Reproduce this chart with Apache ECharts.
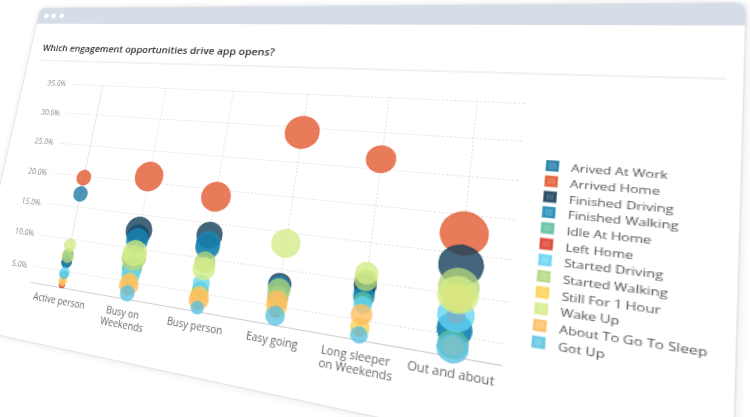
<!DOCTYPE html>
<html>
<head>
<meta charset="utf-8">
<script src="https://cdn.jsdelivr.net/npm/echarts@6/dist/echarts.min.js"></script>
<style>
  html, body { margin: 0; padding: 0; background: #ffffff; overflow: hidden; }
  #viewport { position: relative; width: 750px; height: 417px; overflow: hidden; background: #fff; }
  #stage { position: absolute; left: 0; top: 0; width: 750px; height: 417px; transform-origin: 0 0; }
  #card { position: absolute; left: 32px; top: 4px; width: 683px; height: 389px; background: #fff;
          border: 1px solid #e1e4e8; border-radius: 8px 8px 0 0; box-shadow: 0 0 7px rgba(0,0,0,0.10); box-sizing: border-box; }
  #bar { position: absolute; left: 0; top: 0; right: 0; height: 20px; background: #d5dde6; border-radius: 7px 7px 0 0; }
  .dot { position: absolute; top: 7px; width: 6px; height: 6px; border-radius: 50%; background: #fff; }
  #chart { position: absolute; left: 32px; top: 24px; width: 683px; height: 369px; }
</style>
</head>
<body>
<div id="viewport">
  <div id="stage">
    <div id="card">
      <div id="bar">
        <div class="dot" style="left:8px"></div>
        <div class="dot" style="left:18px"></div>
        <div class="dot" style="left:29px"></div>
      </div>
    </div>
    <div id="chart"></div>
  </div>
</div>
<script>
// ---------------- data ----------------
const categories = ['Active person', 'Busy on Weekends', 'Busy person', 'Easy going', 'Long sleeper on Weekends', 'Out and about'];
const seriesNames = ['Arived At Work', 'Arrived Home', 'Finished Driving', 'Finished Walking', 'Idle At Home', 'Left Home',
                     'Started Driving', 'Started Walking', 'Still For 1 Hour', 'Wake Up', 'About To Go To Sleep', 'Got Up'];
const yTicks = [5, 10, 15, 20, 25, 30, 35];

// share of app opens (%) per category
const shareArivedAtWork     = [17.1, 11.8, 11.6, 7.3, 8.6, 5.8];
const shareArrivedHome      = [19.7, 20.9, 18.9, 29.3, 26.3, 17.6];
const shareFinishedDriving  = [6.4, 12.6, 13.3, 7.9, 9.5, 13.6];
const shareFinishedWalking  = [6.1, 11.2, 12.1, 7.6, 8.0, 5.6];
const shareIdleAtHome       = [7.6, 7.0, 5.4, 6.3, 7.5, 3.9];
const shareLeftHome         = [2.9, 3.8, 3.4, 4.2, 3.5, 7.4];
const shareStartedDriving   = [4.7, 6.0, 6.4, 6.1, 6.9, 7.45];
const shareStartedWalking   = [7.3, 8.5, 9.4, 7.15, 10.1, 10.9];
const shareStillFor1Hour    = [3.6, 4.95, 4.6, 5.0, 4.1, 9.6];
const shareWakeUp           = [9.0, 9.25, 8.5, 13.5, 11.0, 9.9];
const shareAboutToSleep     = [3.2, 4.5, 4.1, 5.7, 5.7, 3.7];
const shareGotUp            = [4.4, 3.3, 3.0, 3.7, 3.1, 3.4];

// bubble volume (number of opens, relative) per category
const volArivedAtWork     = [17, 36, 38, 20, 20, 46];
const volArrivedHome      = [18, 62, 57, 69, 43, 92];
const volFinishedDriving  = [9, 52, 43, 28, 23, 78];
const volFinishedWalking  = [6, 37, 38, 23, 20, 46];
const volIdleAtHome       = [9, 30, 17, 23, 14, 36];
const volLeftHome         = [3, 6, 4, 6, 4, 12];
const volStartedDriving   = [9, 25, 17, 14, 14, 51];
const volStartedWalking   = [12, 44, 27, 28, 23, 64];
const volStillFor1Hour    = [6, 20, 22, 23, 16, 36];
const volWakeUp           = [12, 44, 32, 46, 24, 64];
const volAboutToSleep     = [3, 27, 24, 23, 20, 16];
const volGotUp            = [5, 15, 10, 19, 13, 36];

const shares = [shareArivedAtWork, shareArrivedHome, shareFinishedDriving, shareFinishedWalking, shareIdleAtHome, shareLeftHome,
                shareStartedDriving, shareStartedWalking, shareStillFor1Hour, shareWakeUp, shareAboutToSleep, shareGotUp];
const vols = [volArivedAtWork, volArrivedHome, volFinishedDriving, volFinishedWalking, volIdleAtHome, volLeftHome,
              volStartedDriving, volStartedWalking, volStillFor1Hour, volWakeUp, volAboutToSleep, volGotUp];

const colors = ['#1b79a3', '#e0562c', '#0f3b57', '#1a89b6', '#5bbf9f', '#d93a26',
                '#63d4f4', '#b4d67b', '#fdd14f', '#d3ec86', '#fdbc5f', '#5bc2e2'];

// ---------------- perspective of the card ----------------
function homography(src, dst) {
  const A = [], B = [];
  for (let i = 0; i < 4; i++) {
    const [x, y] = src[i], [X, Y] = dst[i];
    A.push([x, y, 1, 0, 0, 0, -X * x, -X * y]); B.push(X);
    A.push([0, 0, 0, x, y, 1, -Y * x, -Y * y]); B.push(Y);
  }
  const n = 8;
  for (let c = 0; c < n; c++) {
    let p = c;
    for (let r = c + 1; r < n; r++) if (Math.abs(A[r][c]) > Math.abs(A[p][c])) p = r;
    [A[c], A[p]] = [A[p], A[c]]; [B[c], B[p]] = [B[p], B[c]];
    for (let r = 0; r < n; r++) {
      if (r === c) continue;
      const f = A[r][c] / A[c][c];
      for (let k = c; k < n; k++) A[r][k] -= f * A[c][k];
      B[r] -= f * B[c];
    }
  }
  return B.map((b, i) => b / A[i][i]);
}
const h = homography([[100, 100], [560, 100], [560, 330], [100, 330]],
                     [[73, 84], [525, 103], [502, 365], [31, 282]]);
document.getElementById('stage').style.transform =
  'matrix3d(' + [h[0], h[3], 0, h[6], h[1], h[4], 0, h[7], 0, 0, 1, 0, h[2], h[5], 0, 1].join(',') + ')';

// ---------------- chart ----------------
const chart = echarts.init(document.getElementById('chart'), null, { renderer: 'svg' });
const font = '"Open Sans", "Noto Sans", sans-serif';

const series = seriesNames.map((name, s) => ({
  name: name,
  type: 'scatter',
  data: categories.map((c, i) => [i, shares[s][i], vols[s][i]]),
  symbolSize: d => Math.sqrt(d[2]) * 4,
  itemStyle: { color: colors[s], opacity: 0.78, borderColor: colors[s], borderWidth: 0.8 },
  emphasis: { disabled: true },
  z: 2
}));

chart.setOption({
  animation: false,
  textStyle: { fontFamily: font },
  title: {
    text: 'Which engagement opportunities drive app opens?',
    left: 12, top: 21,
    textStyle: { fontFamily: font, fontSize: 11.4, fontWeight: 600, color: '#333' }
  },
  graphic: [{
    type: 'line', shape: { x1: 17, y1: 48, x2: 671, y2: 48 },
    style: { stroke: '#e4e4e4', lineWidth: 1 }, silent: true
  }],
  legend: {
    orient: 'vertical',
    left: 543, top: 122,
    itemWidth: 8, itemHeight: 8, itemGap: 3.7,
    icon: 'rect',
    data: seriesNames,
    textStyle: { fontFamily: font, fontSize: 9.8, color: '#555', padding: [0, 0, 0, 5] }
  },
  grid: { left: 68, top: 76, width: 460, height: 230, containLabel: false },
  xAxis: {
    type: 'value', min: -0.5, max: 5.5,
    axisLine: { show: true, lineStyle: { color: '#cfcfcf', width: 1 } },
    axisTick: { show: false, customValues: [0, 1, 2, 3, 4, 5] },
    axisLabel: {
      customValues: [0, 1, 2, 3, 4, 5],
      formatter: v => categories[Math.round(v)],
      fontFamily: font, fontSize: 10, color: '#666', margin: 8,
      width: 72, overflow: 'break', lineHeight: 12
    },
    splitLine: { show: true, lineStyle: { color: '#dcdcdc', type: [1.5, 2], width: 1 } }
  },
  yAxis: {
    type: 'value', min: 2.5, max: 35,
    axisLine: { show: true, lineStyle: { color: '#e3e3e3', width: 1 } },
    axisTick: { show: false, customValues: yTicks },
    axisLabel: {
      customValues: yTicks,
      formatter: v => v.toFixed(1) + '%',
      fontFamily: font, fontSize: 9, color: '#888', margin: 9
    },
    splitLine: { show: true, lineStyle: { color: '#dcdcdc', type: [1.5, 2], width: 1 } }
  },
  series: series
});
</script>
</body>
</html>
